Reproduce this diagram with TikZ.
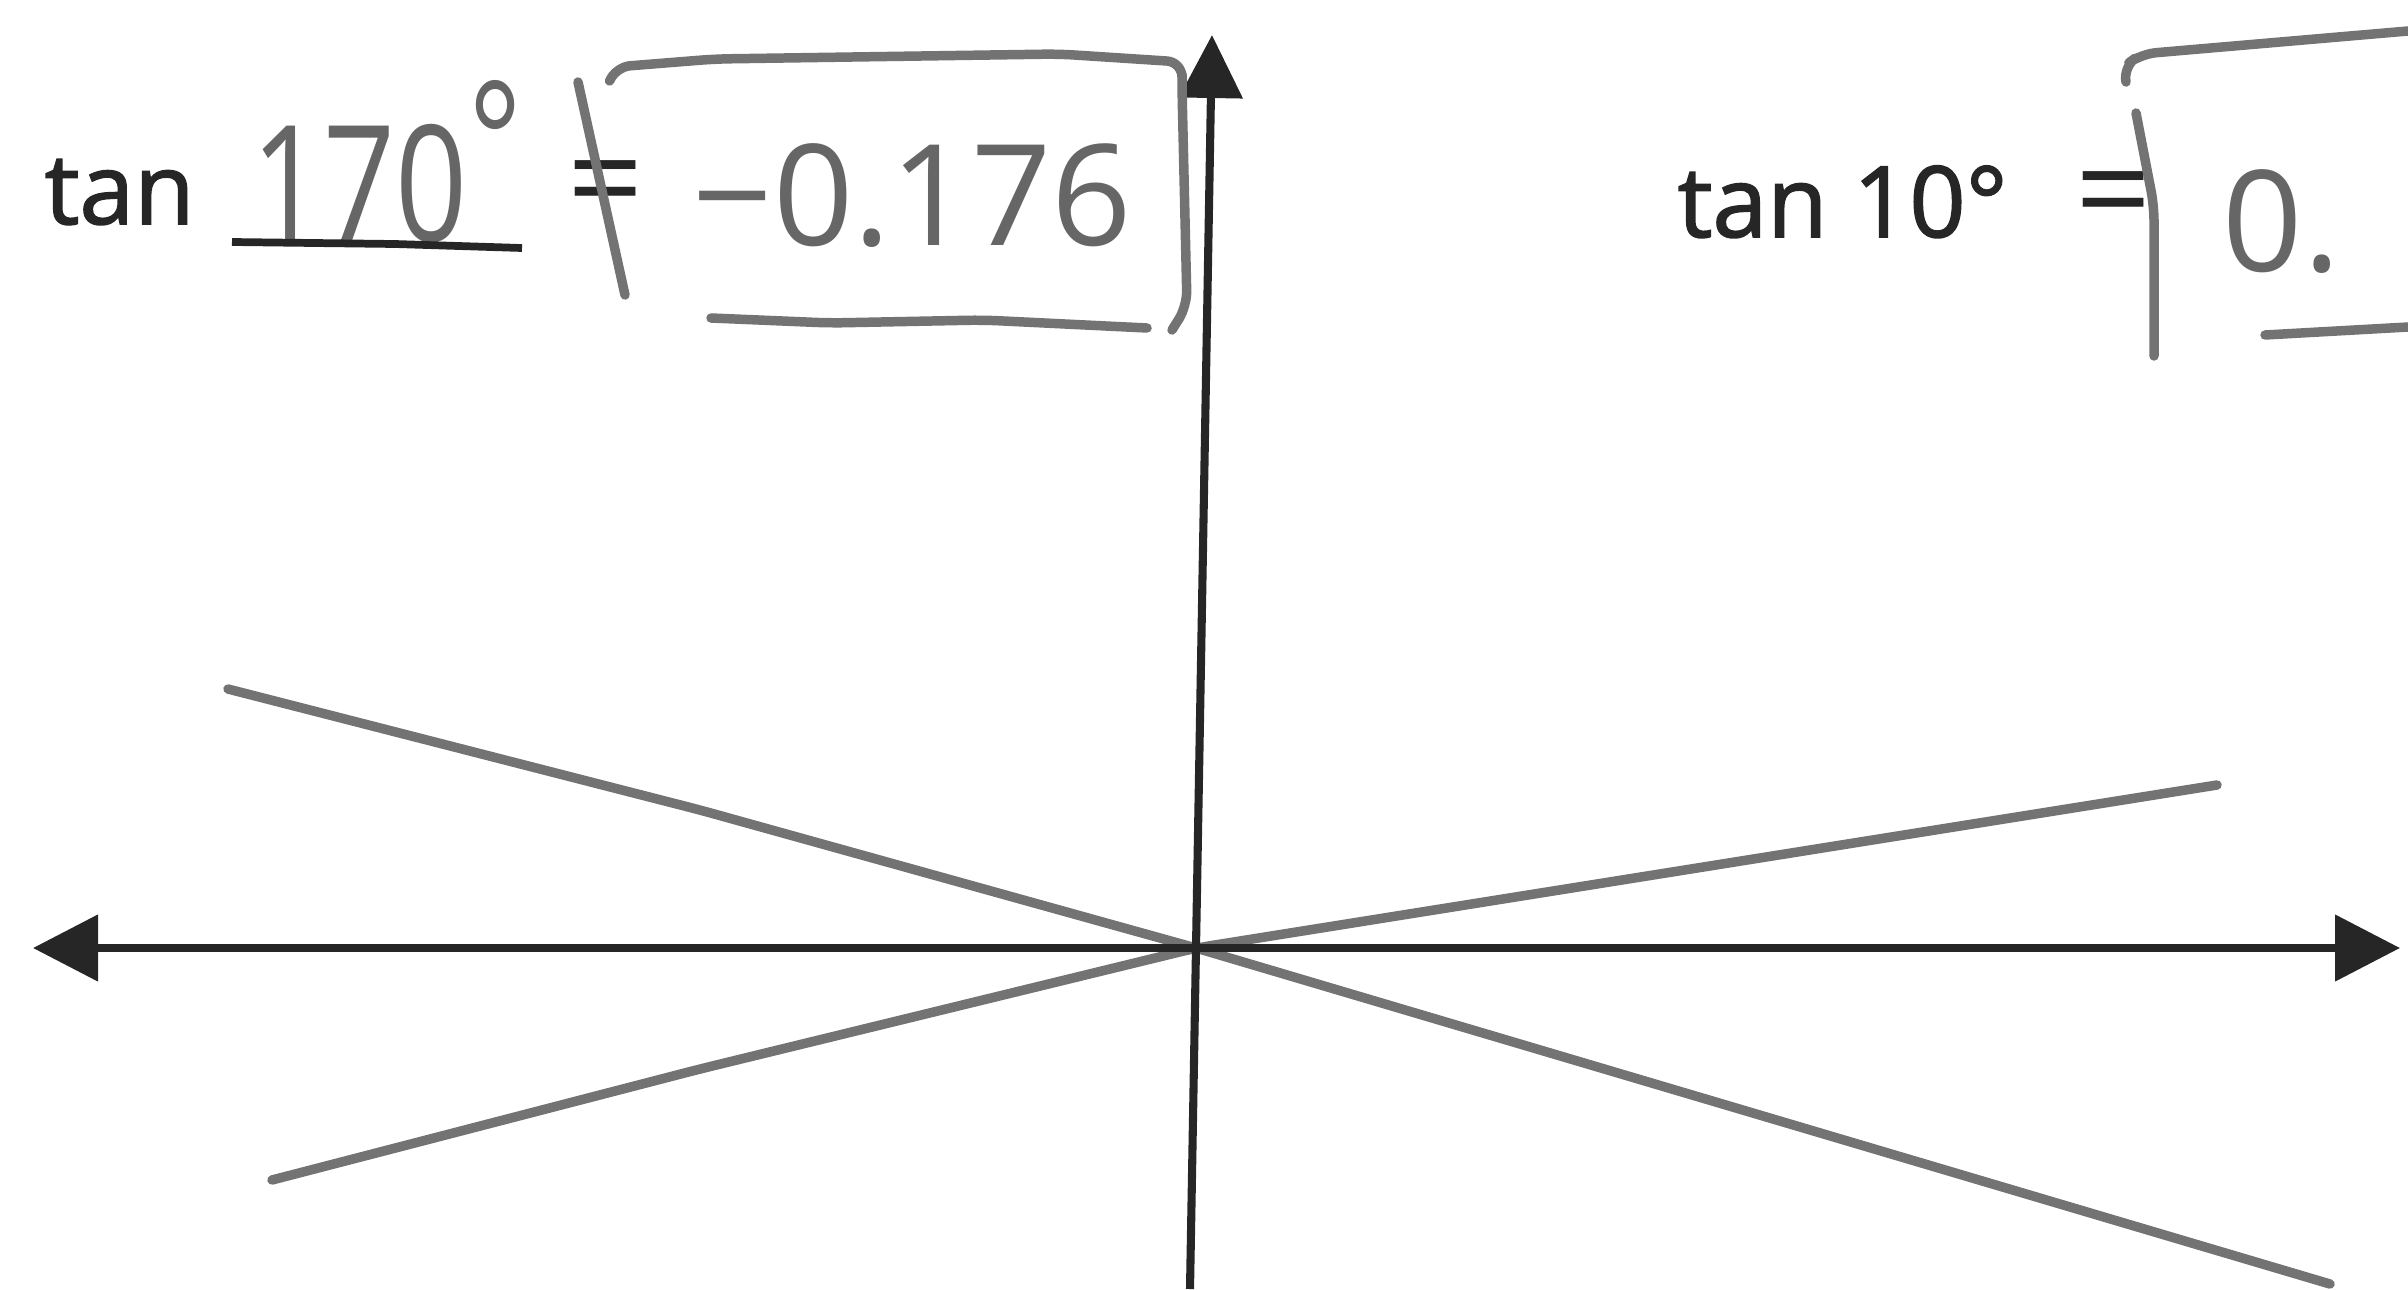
\documentclass[tikz,border=0pt]{standalone}
\usepackage{fontspec}
\usepackage{graphicx}
\setmainfont{Open Sans}
\newfontfamily\printfont[FakeBold=1.6]{Open Sans}
\usetikzlibrary{arrows.meta}

\begin{document}
\begin{tikzpicture}[
  axis/.style={black!85, line width=2.3pt},
  pencil/.style={black!55, line width=2.7pt, line cap=round, line join=round, rounded corners=1.5mm},
  hand/.style={black!60, inner sep=0pt, font=\fontsize{40}{40}\selectfont},
  printed/.style={black!85, inner sep=0pt, font=\printfont\fontsize{28}{28}\selectfont},
  eqsign/.style={black!85, inner sep=0pt, font=\fontsize{38}{38}\selectfont}
]
\useasboundingbox (0,0) rectangle (24.08,12.89);

%ORIGIN AND LINE ENDS
\coordinate (O) at (11.96,3.41);
\coordinate (ul) at (2.28,6.00);
\coordinate (ll) at (2.72,1.09);
\coordinate (ur) at (22.17,5.04);
\coordinate (lr) at (23.30,0.05);

%%%%%%%%%%%%%%%%%%%%%%%%%%%%
%gray lines
\draw[pencil] (ul) -- (7.00,4.79) -- (O) -- (lr);
\draw[pencil] (ll) -- (7.00,2.20) -- (O) -- (ur);

%AXES
\coordinate (xl) at (0.33,3.41);
\coordinate (xr) at (24.00,3.41);
\coordinate (yb) at (11.90,0);
\coordinate (yt) at (12.12,12.54);
\draw[axis, {Triangle[length=6.5mm, width=6.5mm]}-{Triangle[length=6.5mm, width=6.5mm]}] (xl) -- (xr);
\draw[axis, -{Triangle[length=6.3mm, width=6.2mm]}] (yb) -- (yt);

%%%%%%%%%%%%%%%%%%%%%%%%%%%%
%LEFT EQUATION
\node[printed, anchor=base west] (tanl) at (0.44,10.65) {tan};
\node[hand, anchor=base west, font=\fontsize{46}{46}\selectfont] (angl) at (2.51,10.48) {\scalebox{0.78}[1]{170\raisebox{0.27em}{°}}};
\draw[black!85, line width=2.2pt] (2.32,10.47) -- (3.95,10.45) -- (5.22,10.41);
\node[eqsign] (eql) at (6.06,10.96) {=};
\node[hand, anchor=base west] (vall) at (6.92,10.44) {−0.176};

%box
\draw[pencil] (5.78,12.07) -- (6.25,9.94);
\draw[pencil] (6.10,12.09) -- (6.15,12.22) -- (7.15,12.30) -- (10.59,12.35) -- (11.82,12.27) -- (11.82,12.00) -- (11.87,9.83) -- (11.72,9.59);
\draw[pencil] (7.11,9.71) -- (8.30,9.66) -- (9.83,9.69) -- (11.47,9.61);

%%%%%%%%%%%%%%%%%%%%%%%%%%%%
%RIGHT EQUATION
\node[printed, anchor=base west] (tanr) at (16.77,10.52) {tan 10°};
\node[eqsign] (eqr) at (21.14,10.85) {=};
\node[hand, anchor=base west] (valr) at (22.22,10.18) {0.};

%box
\draw[pencil] (21.36,11.76) -- (21.54,10.83) -- (21.54,9.33);
\draw[pencil] (21.26,12.07) -- (21.23,12.22) -- (21.41,12.35) -- (24.08,12.58);
\draw[pencil] (22.65,9.54) -- (24.08,9.62);
\end{tikzpicture}
\end{document}
